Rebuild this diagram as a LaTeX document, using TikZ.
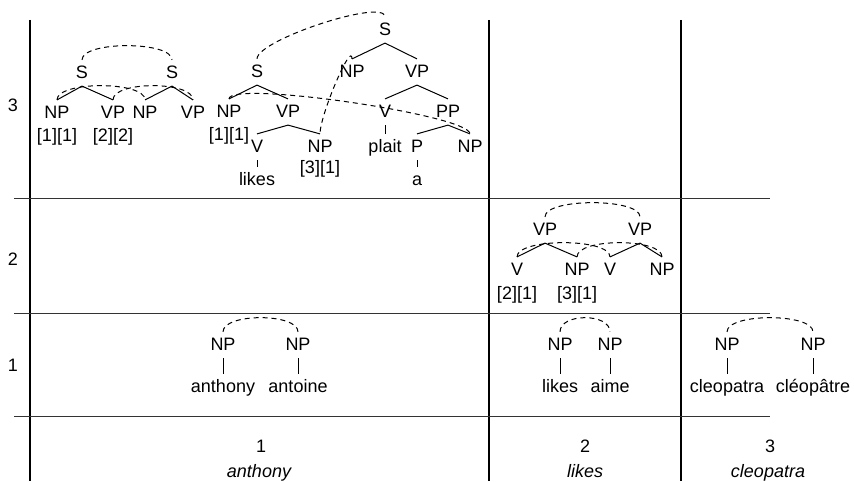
\documentclass[tikz,border=0pt]{standalone}
\usepackage{fontspec}
\setmainfont{Liberation Sans}
\usepackage{tikz}

\begin{document}
\begin{tikzpicture}[
  x=0.5pt, y=-0.5pt,
  font=\fontsize{9}{11}\selectfont,
  every node/.style={text height=0.75em, text depth=0.22em},
  cat/.style={inner sep=1.5pt},
  word/.style={inner sep=1.5pt},
  idx/.style={inner sep=1pt},
  branch/.style={draw, line width=0.5pt},
  link/.style={draw, line width=0.5pt, dash pattern=on 2.5pt off 2pt},
  rule/.style={draw=black!80, line width=0.5pt},
  bar/.style={draw, line width=1.2pt},
]
  \useasboundingbox (0,0) rectangle (854,481);

  % --- chart frame ------------------------------------------------
  \draw[bar] (30,20) -- (30,481);
  \draw[bar] (489,20) -- (489,481);
  \draw[bar] (681,20) -- (681,481);
  \draw[rule] (14,198) -- (770,198);
  \draw[rule] (14,313) -- (770,313);
  \draw[rule] (14,416) -- (770,416);

  \node (row3) at (13,106) {3};
  \node (row2) at (13,260) {2};
  \node (row1) at (13,366) {1};

  \node (col1) at (261,447) {1};
  \node[font=\fontsize{9}{11}\selectfont\itshape] (span1) at (259,472) {anthony};
  \node (col2) at (585,447) {2};
  \node[font=\fontsize{9}{11}\selectfont\itshape] (span2) at (585,472) {likes};
  \node (col3) at (770,447) {3};
  \node[font=\fontsize{9}{11}\selectfont\itshape] (span3) at (768,472) {cleopatra};

  % --- row 3: S -> NP VP pair -------------------------------------
  \node[cat] (sA) at (82,73) {S};
  \node[cat] (sB) at (172,73) {S};
  \node[cat] (npA) at (57,113) {NP};
  \node[cat] (vpA) at (113,113) {VP};
  \node[cat] (npB) at (145,113) {NP};
  \node[cat] (vpB) at (193,113) {VP};
  \node[idx] (ixA) at (57,136) {[1][1]};
  \node[idx] (ixB) at (113,136) {[2][2]};

  \draw[branch] (sA.south) -- (npA.north);
  \draw[branch] (sA.south) -- (vpA.north);
  \draw[branch] (sB.south) -- (npB.north);
  \draw[branch] (sB.south) -- (vpB.north);

  \draw[link] (sA.north) .. controls +(0,-19) and +(0,-19) .. (sB.north);
  \draw[link] (npA.north) .. controls +(0,-19) and +(0,-19) .. (npB.north);
  \draw[link] (vpA.north) .. controls +(0,-19) and +(0,-19) .. (vpB.north);

  % --- row 3: likes / plait a -------------------------------------
  \node[cat] (sC) at (257,72) {S};
  \node[cat] (npC) at (229,112) {NP};
  \node[cat] (vpC) at (288,112) {VP};
  \node[idx] (ixC) at (229,135) {[1][1]};
  \node[cat] (vC) at (257,147) {V};
  \node[cat] (npD) at (320,147) {NP};
  \node[idx] (ixD) at (320,168) {[3][1]};
  \node[word] (likesC) at (257,180) {likes};

  \node[cat] (sD) at (385,30) {S};
  \node[cat] (npE) at (352,72) {NP};
  \node[cat] (vpE) at (417,72) {VP};
  \node[cat] (vE) at (385,112) {V};
  \node[cat] (ppE) at (448,112) {PP};
  \node[word] (plaitE) at (385,147) {plait};
  \node[cat] (pE) at (417,147) {P};
  \node[cat] (npF) at (470,147) {NP};
  \node[word] (aE) at (417,180) {a};

  \draw[branch] (sC.south) -- (npC.north);
  \draw[branch] (sC.south) -- (vpC.north);
  \draw[branch] (vpC.south) -- (vC.north);
  \draw[branch] (vpC.south) -- (npD.north);
  \draw[branch] (vC.south) -- (likesC.north);

  \draw[branch] (sD.south) -- (npE.north);
  \draw[branch] (sD.south) -- (vpE.north);
  \draw[branch] (vpE.south) -- (vE.north);
  \draw[branch] (vpE.south) -- (ppE.north);
  \draw[branch] (vE.south) -- (plaitE.north);
  \draw[branch] (ppE.south) -- (pE.north);
  \draw[branch] (ppE.south) -- (npF.north);
  \draw[branch] (pE.south) -- (aE.north);

  \draw[link] (sC.north) .. controls +(0,-19) and +(0,-19) .. (sD.north);
  \draw[link] (npC.north) .. controls +(0,-19) and +(0,-19) .. (npF.north);
  \draw[link] (npE.north) .. controls +(0,-19) and +(0,-19) .. (npD.north);

  % --- row 2: VP -> V NP pair -------------------------------------
  \node[cat] (vpG) at (545,230) {VP};
  \node[cat] (vpH) at (640,230) {VP};
  \node[cat] (vG) at (517,270) {V};
  \node[cat] (npG) at (577,270) {NP};
  \node[cat] (vH) at (610,270) {V};
  \node[cat] (npH) at (662,270) {NP};
  \node[idx] (ixG) at (517,294) {[2][1]};
  \node[idx] (ixH) at (577,294) {[3][1]};

  \draw[branch] (vpG.south) -- (vG.north);
  \draw[branch] (vpG.south) -- (npG.north);
  \draw[branch] (vpH.south) -- (vH.north);
  \draw[branch] (vpH.south) -- (npH.north);

  \draw[link] (vpG.north) .. controls +(0,-19) and +(0,-19) .. (vpH.north);
  \draw[link] (vG.north) .. controls +(0,-19) and +(0,-19) .. (vH.north);
  \draw[link] (npG.north) .. controls +(0,-19) and +(0,-19) .. (npH.north);

  % --- row 1: lexical NP pairs ------------------------------------
  \node[cat] (npJ) at (223,345) {NP};
  \node[cat] (npK) at (298,345) {NP};
  \node[word] (wJ) at (223,387) {anthony};
  \node[word] (wK) at (298,387) {antoine};

  \node[cat] (npL) at (560,345) {NP};
  \node[cat] (npM) at (610,345) {NP};
  \node[word] (wL) at (560,387) {likes};
  \node[word] (wM) at (610,387) {aime};

  \node[cat] (npN) at (727,345) {NP};
  \node[cat] (npO) at (813,345) {NP};
  \node[word] (wN) at (727,387) {cleopatra};
  \node[word] (wO) at (813,387) {cléopâtre};

  \draw[branch] (npJ.south) -- (wJ.north);
  \draw[branch] (npK.south) -- (wK.north);
  \draw[branch] (npL.south) -- (wL.north);
  \draw[branch] (npM.south) -- (wM.north);
  \draw[branch] (npN.south) -- (wN.north);
  \draw[branch] (npO.south) -- (wO.north);

  \draw[link] (npJ.north) .. controls +(0,-19) and +(0,-19) .. (npK.north);
  \draw[link] (npL.north) .. controls +(0,-19) and +(0,-19) .. (npM.north);
  \draw[link] (npN.north) .. controls +(0,-19) and +(0,-19) .. (npO.north);
\end{tikzpicture}
\end{document}
